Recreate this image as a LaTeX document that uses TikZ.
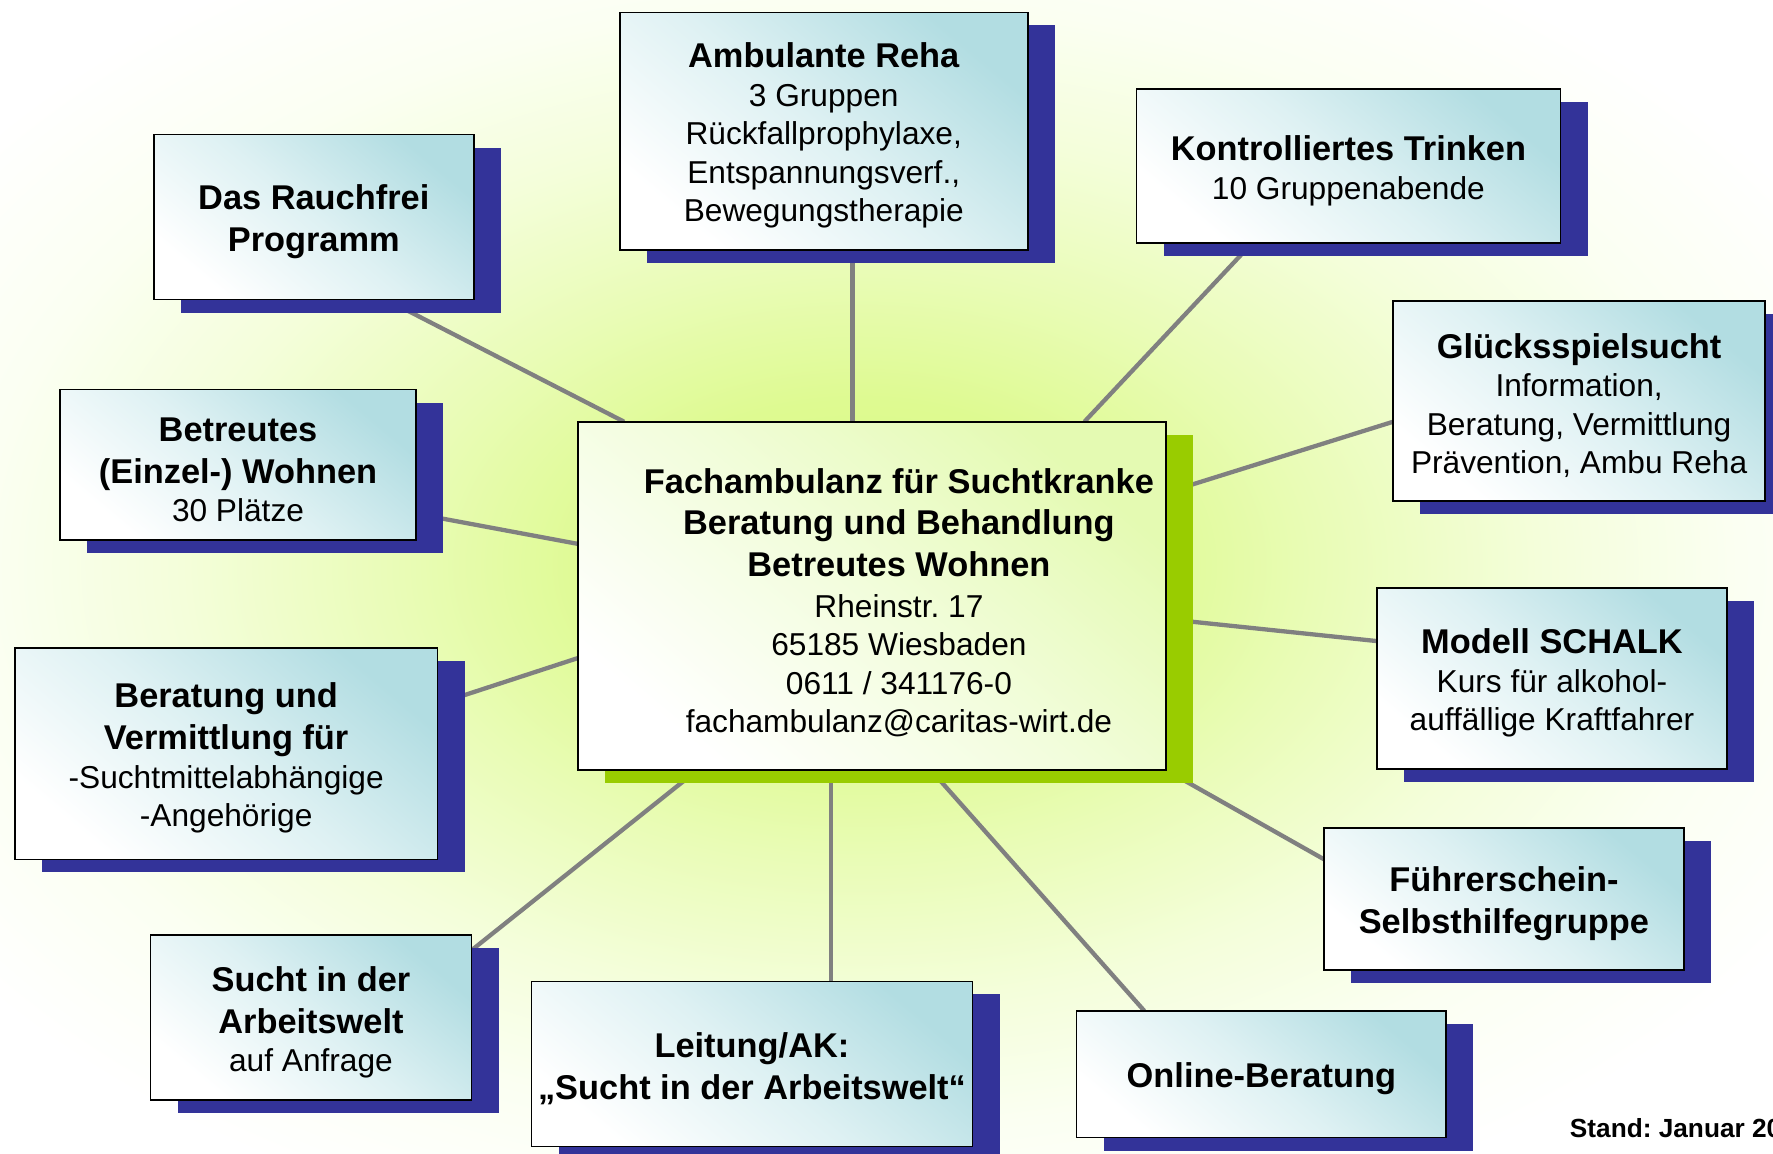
\documentclass[tikz,border=0pt]{standalone}
\usepackage{fontspec}
\setmainfont{Liberation Sans}
\usetikzlibrary{shadows,calc}
\frenchspacing
\definecolor{shblue}{RGB}{51,51,153}
\definecolor{shgreen}{RGB}{153,204,0}
\definecolor{boxteal}{RGB}{178,221,226}
\definecolor{boxtealmid}{RGB}{222,241,243}
\definecolor{boxlime}{RGB}{228,250,178}
\definecolor{boxlimemid}{RGB}{242,253,220}
\definecolor{conngray}{RGB}{128,128,128}
\definecolor{glowa}{RGB}{216,248,128}
\definecolor{glowb}{RGB}{222,250,145}
\definecolor{glowc}{RGB}{233,252,182}
\definecolor{glowd}{RGB}{244,254,218}
\definecolor{glowe}{RGB}{251,255,242}
\pgfdeclareradialshading{glowshade}{\pgfpoint{0bp}{0bp}}{color(0bp)=(glowa); color(7bp)=(glowb); color(12.5bp)=(glowc); color(18.5bp)=(glowd); color(24bp)=(glowe); color(30bp)=(white); color(80bp)=(white)}
\pgfdeclarelayer{glowlayer}
\pgfdeclarelayer{connlayer}
\pgfsetlayers{glowlayer,connlayer,main}
\newcommand{\boxtitle}[1]{{\fontsize{15.2}{18.5}\selectfont\bfseries #1}}
\newcommand{\firsttitle}[1]{\rule{0pt}{15pt}\boxtitle{#1}}
\tikzset{
  bodyfont/.style={font=\fontsize{14}{17}\selectfont},
  infobox/.style={draw=black, line width=0.75pt, inner sep=0pt, outer sep=0pt,
    top color=boxteal, bottom color=white, middle color=boxtealmid, shading angle=-40,
    align=center, bodyfont,
    drop shadow={shadow xshift=12pt, shadow yshift=-5.75pt, fill=shblue, opacity=1}},
  hubbox/.style={draw=black, line width=0.75pt, inner sep=0pt, outer sep=0pt,
    top color=boxlime, bottom color=white, middle color=boxlimemid, shading angle=-40,
    drop shadow={shadow xshift=12pt, shadow yshift=-5.75pt, fill=shgreen, opacity=1}},
  conn/.style={draw=conngray, line width=1.9pt}
}
\begin{document}
\begin{tikzpicture}[x=0.5pt,y=-0.5pt]
\useasboundingbox (0,0) rectangle (1568,1020);
\begin{pgfonlayer}{glowlayer}
  \fill[white] (0,0) rectangle (1568,1020);
  \fill[shading=glowshade] (-50,-20) rectangle (1570,1020);
\end{pgfonlayer}

% hub
\node[hubbox, minimum width=260pt, minimum height=154pt] (hub) at (771,527) {};
\node[align=center, bodyfont, inner sep=0pt] (hubtext) at (795,533)
  {\boxtitle{Fachambulanz für Suchtkranke}\\[1.5pt]
   \boxtitle{Beratung und Behandlung}\\[1.5pt]
   \boxtitle{Betreutes Wohnen}\\[1pt]
   Rheinstr. 17\\ 65185 Wiesbaden\\ 0611 / 341176-0\\ fachambulanz@caritas-wirt.de};

% outer boxes
\node[infobox, minimum width=180.5pt, minimum height=105pt] (amb) at (728.5,116)
  {\firsttitle{Ambulante Reha}\\ 3 Gruppen\\ Rückfallprophylaxe,\\ Entspannungsverf.,\\ Bewegungstherapie};
\node[infobox, minimum width=141.5pt, minimum height=73pt] (rauch) at (277.5,192)
  {\firsttitle{Das Rauchfrei}\\[1.5pt] \boxtitle{Programm}};
\node[infobox, minimum width=187.5pt, minimum height=68pt] (kontr) at (1192.5,147)
  {\firsttitle{Kontrolliertes Trinken}\\ 10 Gruppenabende};
\node[infobox, minimum width=164.5pt, minimum height=88.5pt] (glueck) at (1396.5,354.5)
  {\firsttitle{Glücksspielsucht}\\ Information,\\ Beratung, Vermittlung\\ Prävention, Ambu Reha};
\node[infobox, minimum width=157.5pt, minimum height=66.5pt] (betr) at (210.5,411)
  {\firsttitle{Betreutes}\\[1.5pt] \boxtitle{(Einzel-) Wohnen}\\ 30 Plätze};
\node[infobox, minimum width=154.5pt, minimum height=80pt] (modell) at (1372.5,600)
  {\firsttitle{Modell SCHALK}\\ Kurs für alkohol-\\ auffällige Kraftfahrer};
\node[infobox, minimum width=187pt, minimum height=93.5pt] (berat) at (200,666.5)
  {\firsttitle{Beratung und}\\[1.5pt] \boxtitle{Vermittlung für}\\ -Suchtmittelabhängige\\ -Angehörige};
\node[infobox, minimum width=159pt, minimum height=63pt] (fuehr) at (1330,795)
  {\firsttitle{Führerschein-}\\[1.5pt] \boxtitle{Selbsthilfegruppe}};
\node[infobox, minimum width=142pt, minimum height=73pt] (sucht) at (275,900)
  {\firsttitle{Sucht in der}\\[1.5pt] \boxtitle{Arbeitswelt}\\ auf Anfrage};
\node[infobox, minimum width=195pt, minimum height=73pt] (leit) at (665,941)
  {\firsttitle{Leitung/AK:}\\[1.5pt] \boxtitle{„Sucht in der Arbeitswelt“}};
\node[infobox, minimum width=163.5pt, minimum height=56pt] (online) at (1115.5,950)
  {\firsttitle{Online-Beratung}};

\node[anchor=base west, inner sep=0pt, font=\fontsize{11.6}{13}\selectfont\bfseries] (stand) at (1388,1006) {Stand: Januar 20};

% connectors
\coordinate (ambx) at ([xshift=12.75pt]amb.south);
\coordinate (leitx) at ([xshift=35pt]leit.north);
\begin{pgfonlayer}{connlayer}
  \draw[conn] ([xshift=32pt]rauch.south) -- ([xshift=20.5pt]hub.north west);
  \draw[conn] (ambx) -- (ambx |- hub.north);
  \draw[conn] ([xshift=-42.6pt]kontr.south) -- ([xshift=-36pt]hub.north east);
  \draw[conn] ([yshift=-9.25pt]glueck.west) -- ([yshift=45.6pt]hub.east);
  \draw[conn] ([yshift=-21.65pt]betr.east) -- ([yshift=23pt]hub.west);
  \draw[conn] ([yshift=22pt]berat.east) -- ([yshift=-27.5pt]hub.west);
  \draw[conn] ([yshift=-10.2pt]hub.east) -- ([yshift=16.5pt]modell.west);
  \draw[conn] (hub.south east) -- ([yshift=17.5pt]fuehr.west);
  \draw[conn] ([yshift=29.8pt]sucht.east) -- ([xshift=52.9pt]hub.south west);
  \draw[conn] (leitx) -- (leitx |- hub.south);
  \draw[conn] ([xshift=26.1pt]hub.south) -- ([xshift=-51.75pt]online.north);
\end{pgfonlayer}
\end{tikzpicture}
\end{document}
